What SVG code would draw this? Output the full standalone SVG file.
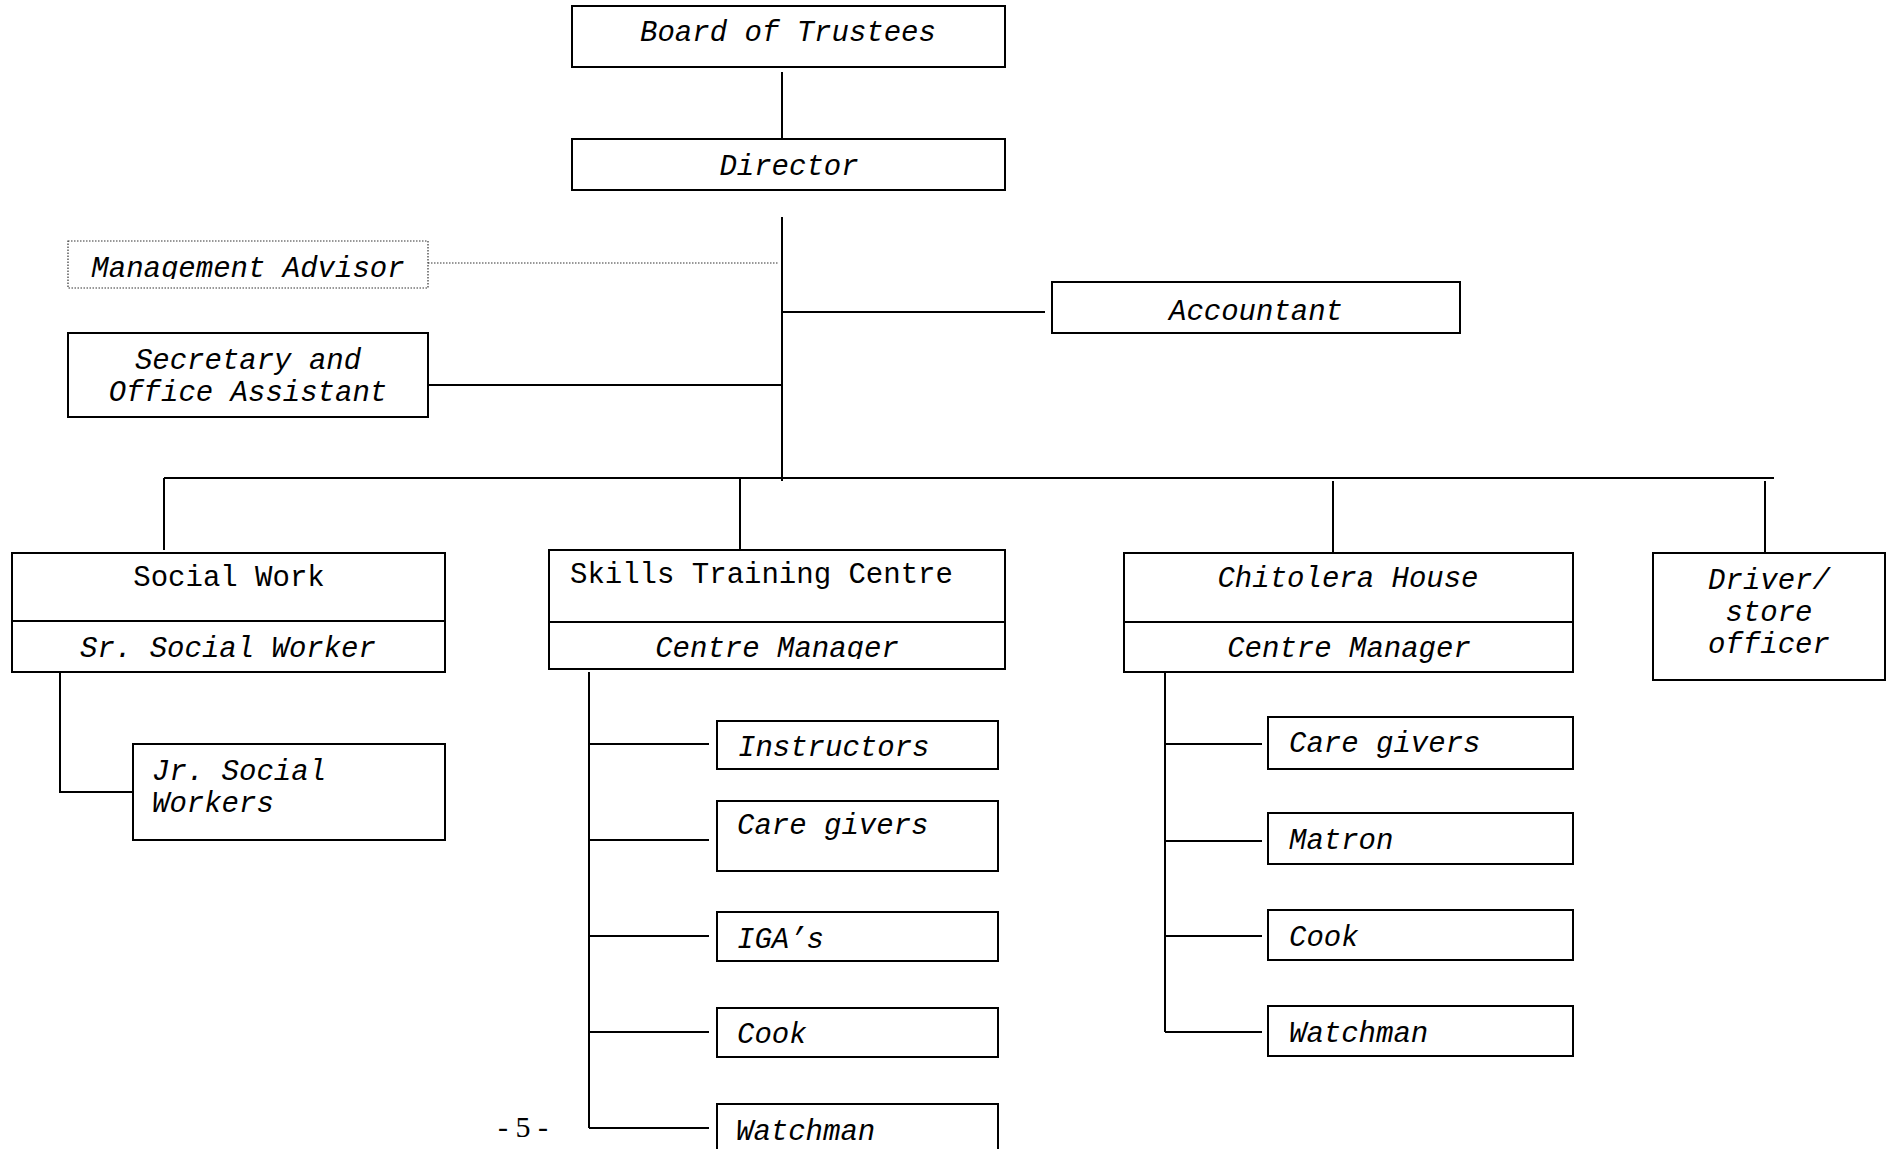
<svg xmlns="http://www.w3.org/2000/svg" width="1892" height="1149" viewBox="0 0 1892 1149">
<style>
.box{fill:#fff;stroke:#000;stroke-width:2}
.dot{fill:#fff;stroke:#333;stroke-width:1.2;stroke-dasharray:1.5 1.5}
.ln{fill:none;stroke:#000;stroke-width:2}
.dl{fill:none;stroke:#333;stroke-width:1.2;stroke-dasharray:1.5 1.5}
text{font-family:"Liberation Mono","Courier New",monospace;font-size:29px;fill:#000}
.i{font-style:italic}
.c{text-anchor:middle}
.pg{font-family:"Liberation Serif","Times New Roman",serif;font-size:30px}
</style>
<defs>
<clipPath id="clipMA"><rect x="60" y="230" width="380" height="49"/></clipPath>
<clipPath id="clipCM"><rect x="550" y="625" width="455" height="34"/></clipPath>
</defs>
<rect width="1892" height="1149" fill="#fff"/>
<g id="connectors">
<line class="ln" x1="782" y1="72" x2="782" y2="144"/>
<line class="ln" x1="782" y1="217" x2="782" y2="481"/>
<line class="dl" x1="428" y1="263" x2="778" y2="263"/>
<line class="ln" x1="782" y1="312" x2="1045" y2="312"/>
<line class="ln" x1="421" y1="385" x2="782" y2="385"/>
<line class="ln" x1="164" y1="478" x2="1774" y2="478"/>
<line class="ln" x1="164" y1="478" x2="164" y2="550"/>
<line class="ln" x1="740" y1="478" x2="740" y2="549"/>
<line class="ln" x1="1333" y1="481" x2="1333" y2="552"/>
<line class="ln" x1="1765" y1="481" x2="1765" y2="553"/>
<polyline class="ln" points="60,672 60,792 133,792"/>
<line class="ln" x1="589" y1="672" x2="589" y2="1128"/>
<line class="ln" x1="589" y1="744" x2="709" y2="744"/>
<line class="ln" x1="589" y1="840" x2="709" y2="840"/>
<line class="ln" x1="589" y1="936" x2="709" y2="936"/>
<line class="ln" x1="589" y1="1032" x2="709" y2="1032"/>
<line class="ln" x1="589" y1="1128" x2="709" y2="1128"/>
<line class="ln" x1="1165" y1="672" x2="1165" y2="1032"/>
<line class="ln" x1="1165" y1="744" x2="1262" y2="744"/>
<line class="ln" x1="1165" y1="841" x2="1262" y2="841"/>
<line class="ln" x1="1165" y1="936" x2="1262" y2="936"/>
<line class="ln" x1="1165" y1="1032" x2="1262" y2="1032"/>
</g>
<g id="board"><rect class="box" x="572" y="6" width="433" height="61"/><text class="i c" x="788" y="41">Board of Trustees</text></g>
<g id="director"><rect class="box" x="572" y="139" width="433" height="51"/><text class="i c" x="789" y="175">Director</text></g>
<g id="management-advisor"><rect class="dot" x="68" y="241" width="360" height="47"/><text class="i c" x="248" y="277" clip-path="url(#clipMA)">Management Advisor</text></g>
<g id="accountant"><rect class="box" x="1052" y="282" width="408" height="51"/><text class="i c" x="1256" y="320">Accountant</text></g>
<g id="secretary"><rect class="box" x="68" y="333" width="360" height="84"/><text class="i c" x="248" y="369">Secretary and</text><text class="i c" x="248" y="401">Office Assistant</text></g>
<g id="social-work"><rect class="box" x="12" y="553" width="433" height="119"/><line class="ln" x1="12" y1="621" x2="445" y2="621"/><text class="c" x="229" y="586">Social Work</text><text class="i c" x="228" y="657">Sr. Social Worker</text></g>
<g id="jr-social-workers"><rect class="box" x="133" y="744" width="312" height="96"/><text class="i" x="152" y="780">Jr. Social</text><text class="i" x="152" y="812">Workers</text></g>
<g id="skills-training-centre"><rect class="box" x="549" y="550" width="456" height="119"/><line class="ln" x1="549" y1="622" x2="1005" y2="622"/><text x="570" y="583">Skills Training Centre</text><text class="i c" x="777" y="657" clip-path="url(#clipCM)">Centre Manager</text></g>
<g id="stc-instructors"><rect class="box" x="717" y="721" width="281" height="48"/><text class="i" x="738" y="756">Instructors</text></g>
<g id="stc-care-givers"><rect class="box" x="717" y="801" width="281" height="70"/><text class="i" x="737" y="834">Care givers</text></g>
<g id="stc-igas"><rect class="box" x="717" y="912" width="281" height="49"/><text class="i" x="737" y="948">IGA’s</text></g>
<g id="stc-cook"><rect class="box" x="717" y="1008" width="281" height="49"/><text class="i" x="737" y="1043">Cook</text></g>
<g id="stc-watchman"><rect class="box" x="717" y="1104" width="281" height="60"/><text class="i" x="736" y="1140">Watchman</text></g>
<g id="chitolera-house"><rect class="box" x="1124" y="553" width="449" height="119"/><line class="ln" x1="1124" y1="622" x2="1573" y2="622"/><text class="i c" x="1348" y="587">Chitolera House</text><text class="i c" x="1349" y="657">Centre Manager</text></g>
<g id="ch-care-givers"><rect class="box" x="1268" y="717" width="305" height="52"/><text class="i" x="1289" y="752">Care givers</text></g>
<g id="ch-matron"><rect class="box" x="1268" y="813" width="305" height="51"/><text class="i" x="1289" y="849">Matron</text></g>
<g id="ch-cook"><rect class="box" x="1268" y="910" width="305" height="50"/><text class="i" x="1289" y="946">Cook</text></g>
<g id="ch-watchman"><rect class="box" x="1268" y="1006" width="305" height="50"/><text class="i" x="1289" y="1042">Watchman</text></g>
<g id="driver"><rect class="box" x="1653" y="553" width="232" height="127"/><text class="i c" x="1769" y="589">Driver/</text><text class="i c" x="1769" y="621">store</text><text class="i c" x="1769" y="653">officer</text></g>
<text class="pg" x="498" y="1137">- 5 -</text>
</svg>
